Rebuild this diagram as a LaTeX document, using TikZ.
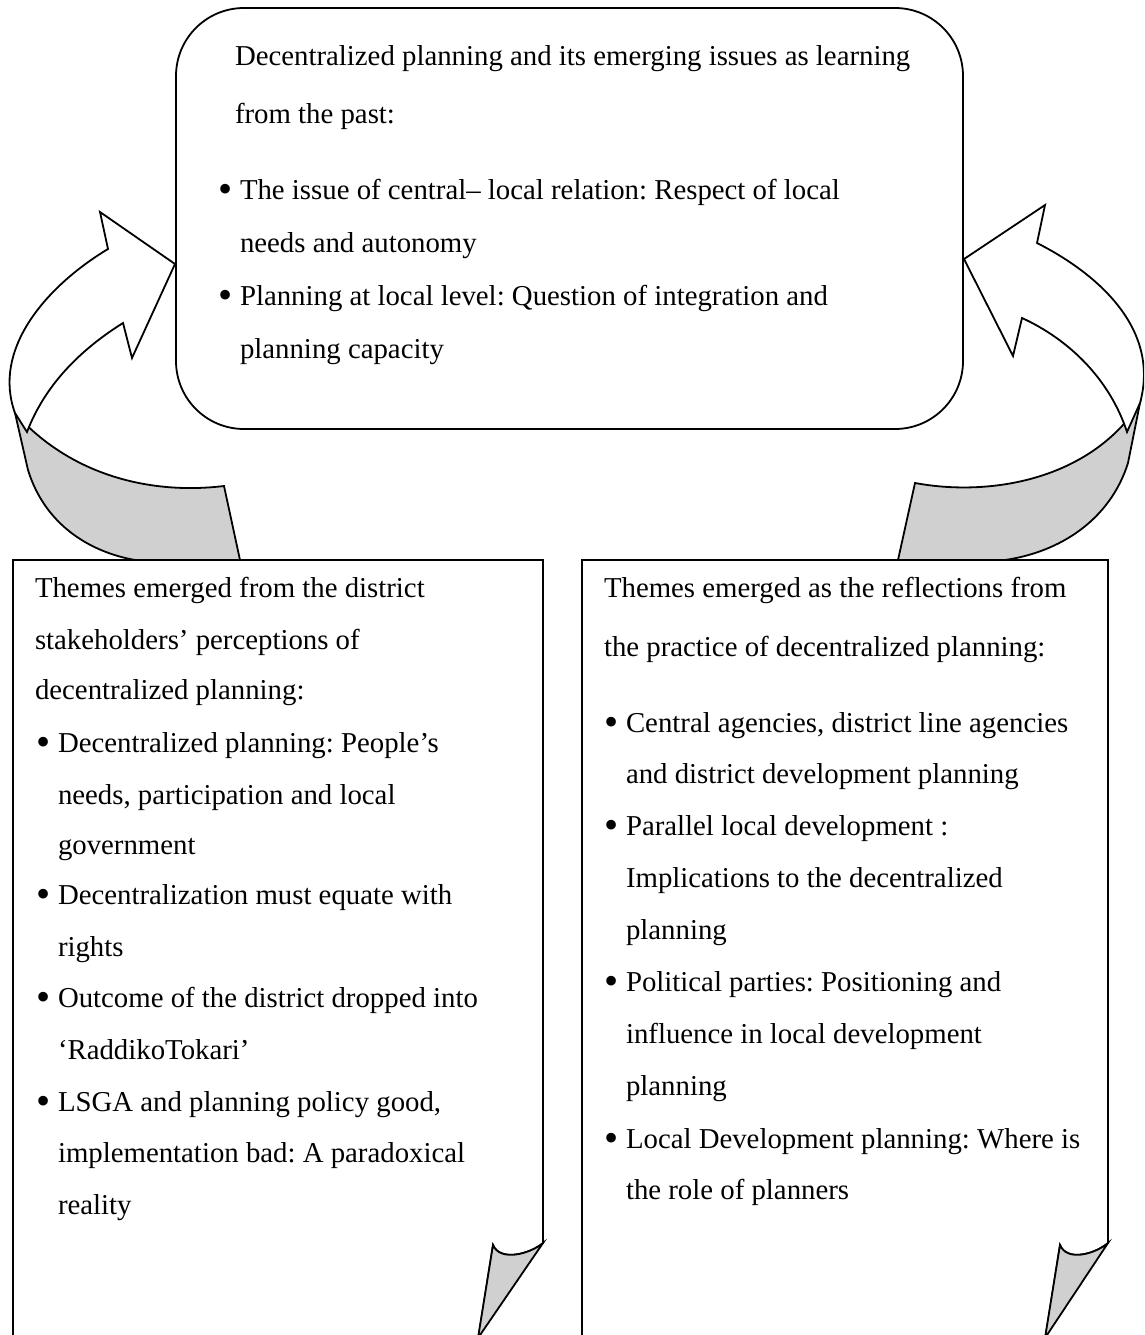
\documentclass[tikz,border=0pt]{standalone}
\usepackage{fontspec}
\setmainfont{Liberation Serif}
\frenchspacing
\newcommand{\bigdot}{\raisebox{-0.11em}{\scalebox{1.4}{•}}}
\begin{document}
\begin{tikzpicture}[x=1pt,y=-1pt,
  outline/.style={draw=black,line width=1.8pt,line join=miter},
  backside/.style={outline,fill={rgb,255:red,208;green,208;blue,208}},
  frontside/.style={outline,fill=white},
  ln/.style={anchor=base west,inner sep=0pt,outer sep=0pt,
             font=\fontsize{28.8}{34}\selectfont},
  bul/.style={ln,execute at begin node={\makebox[22pt][l]{\bigdot}}}]
\useasboundingbox (0,0) rectangle (1144,1335);
\clip (0,0) rectangle (1144,1335);

% ---- left curved arrow (back side shaded, front side white)
\filldraw[backside] (15,413) -- (28,470)
  .. controls (45,525) and (90,552) .. (135,560) -- (240,560) -- (224,486)
  .. controls (150,495) and (70,475) .. (15,413) -- cycle;
\filldraw[frontside] (175,264) -- (100,212) -- (108,249)
  .. controls (45,287) and (-8,350) .. (15,413) -- (27,432)
  .. controls (45,385) and (80,350) .. (123,323) -- (132,358) -- cycle;

% ---- right curved arrow
\filldraw[backside] (1140,403) -- (1128,463)
  .. controls (1110,520) and (1060,552) .. (1005,560) -- (898,560) -- (915,483)
  .. controls (990,497) and (1090,480) .. (1140,403) -- cycle;
\filldraw[frontside] (964,259) -- (1045,205) -- (1037,243)
  .. controls (1100,275) and (1160,330) .. (1140,403) -- (1127,432)
  .. controls (1110,380) and (1070,340) .. (1022,318) -- (1013,356) -- cycle;

% ---- top box: lessons from the past
\node[draw=black,line width=1.8pt,rounded corners=68pt,fill=white,
      minimum width=787pt,minimum height=421pt,outer sep=0pt,inner sep=0pt,
      anchor=north west] (past) at (176,8) {};

% ---- bottom boxes with curled corner
\filldraw[frontside] (13,1340) -- (13,560) -- (543,560) -- (543,1243)
  .. controls (530,1254) and (500,1262) .. (493,1245) -- (478,1340);
\filldraw[backside] (543,1243) .. controls (530,1254) and (500,1262) .. (493,1245)
  -- (478,1338) -- cycle;

\filldraw[frontside] (582,1340) -- (582,560) -- (1108,560) -- (1108,1243)
  .. controls (1095,1254) and (1067,1262) .. (1060,1245) -- (1045,1340);
\filldraw[backside] (1108,1243) .. controls (1095,1254) and (1067,1262) .. (1060,1245)
  -- (1045,1338) -- cycle;

% ---- text of the top box
\node[ln]  (p1) at (235,66)  {Decentralized planning and its emerging issues as learning};
\node[ln]  (p2) at (235,124) {from the past:};
\node[bul] (p3) at (218,199) {The issue of central– local relation: Respect of local};
\node[ln]  (p4) at (240,252) {needs and autonomy};
\node[bul] (p5) at (218,305) {Planning at local level: Question of integration and};
\node[ln]  (p6) at (240,358) {planning capacity};

% ---- text of the left box
\node[ln]  (l1)  at (35,597)  {Themes emerged from the district};
\node[ln]  (l2)  at (35,649)  {stakeholders’ perceptions of};
\node[ln]  (l3)  at (35,699)  {decentralized planning:};
\node[bul] (l4)  at (36,752)  {Decentralized planning: People’s};
\node[ln]  (l5)  at (58,804)  {needs, participation and local};
\node[ln]  (l6)  at (58,854)  {government};
\node[bul] (l7)  at (36,904)  {Decentralization must equate with};
\node[ln]  (l8)  at (58,956)  {rights};
\node[bul] (l9)  at (36,1007) {Outcome of the district dropped into};
\node[ln]  (l10) at (58,1059) {‘RaddikoTokari’};
\node[bul] (l11) at (36,1111) {LSGA and planning policy good,};
\node[ln]  (l12) at (58,1162) {implementation bad: A paradoxical};
\node[ln]  (l13) at (58,1214) {reality};

% ---- text of the right box
\node[ln]  (r1)  at (604,597)  {Themes emerged as the reflections from};
\node[ln]  (r2)  at (604,656)  {the practice of decentralized planning:};
\node[bul] (r3)  at (604,732)  {Central agencies, district line agencies};
\node[ln]  (r4)  at (626,783)  {and district development planning};
\node[bul] (r5)  at (604,835)  {Parallel local development :};
\node[ln]  (r6)  at (626,887)  {Implications to the decentralized};
\node[ln]  (r7)  at (626,939)  {planning};
\node[bul] (r8)  at (604,991)  {Political parties: Positioning and};
\node[ln]  (r9)  at (626,1043) {influence in local development};
\node[ln]  (r10) at (626,1095) {planning};
\node[bul] (r11) at (604,1148) {Local Development planning: Where is};
\node[ln]  (r12) at (626,1199) {the role of planners};
\end{tikzpicture}
\end{document}
